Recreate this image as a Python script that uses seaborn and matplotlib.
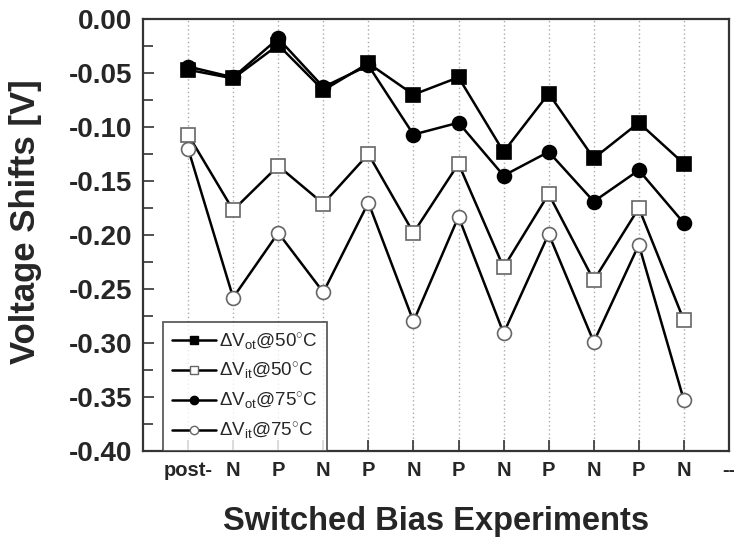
import pandas as pd
import matplotlib
matplotlib.use("Agg")
import matplotlib.pyplot as plt
from matplotlib.lines import Line2D
from matplotlib.ticker import MultipleLocator
import seaborn as sns

# bias sequence and tick labels (last tick sits on the right frame)
step = list(range(1, 13))
tick_labels = ["post-", "N", "P", "N", "P", "N", "P", "N", "P", "N", "P", "N", "--"]

# voltage shifts [V]
vot_50 = [-0.047, -0.055, -0.024, -0.066, -0.041, -0.070, -0.054, -0.123, -0.069, -0.129, -0.096, -0.134]
vit_50 = [-0.107, -0.177, -0.136, -0.171, -0.125, -0.198, -0.134, -0.230, -0.162, -0.242, -0.175, -0.279]
vot_75 = [-0.044, -0.054, -0.018, -0.063, -0.043, -0.107, -0.096, -0.145, -0.123, -0.169, -0.140, -0.189]
vit_75 = [-0.120, -0.258, -0.198, -0.253, -0.170, -0.280, -0.183, -0.291, -0.199, -0.299, -0.209, -0.353]

labels = [r"$\mathrm{\Delta V_{ot}}$@50$^{\circ}$C",
          r"$\mathrm{\Delta V_{it}}$@50$^{\circ}$C",
          r"$\mathrm{\Delta V_{ot}}$@75$^{\circ}$C",
          r"$\mathrm{\Delta V_{it}}$@75$^{\circ}$C"]

sns.set_style("ticks")
plt.rcParams["font.family"] = ["Liberation Sans", "DejaVu Sans"]
plt.rcParams["mathtext.fontset"] = "custom"
plt.rcParams["mathtext.rm"] = "Liberation Sans"
plt.rcParams["mathtext.it"] = "Liberation Sans:italic"
plt.rcParams["axes.unicode_minus"] = False

fig = plt.figure(figsize=(7.34, 5.45), dpi=100)
ax = fig.add_axes([143 / 734, 1 - 451 / 545, 586 / 734, 432 / 545])

# style per series: marker, face colour, edge colour
styles = [("s", "black", "black"), ("s", "white", "#666666"),
          ("o", "black", "black"), ("o", "white", "#666666")]
series = [vot_50, vit_50, vot_75, vit_75]

handles = []
for vals, lab, (mk, fc, ec) in zip(series, labels, styles):
    df = pd.DataFrame({"step": step, "shift": vals})
    sns.lineplot(data=df, x="step", y="shift", ax=ax, color="black", lw=1.8,
                 marker=mk, markersize=10, markerfacecolor=fc, markeredgecolor=ec,
                 markeredgewidth=1.2, zorder=3)
    handles.append(Line2D([], [], color="black", lw=1.8, marker=mk, markersize=6,
                          markerfacecolor=fc, markeredgecolor=ec, markeredgewidth=1))

ax.set_xlim(0, 13)
ax.set_xticks(range(1, 14))
ax.set_xticklabels(tick_labels, fontsize=14.5, fontweight="bold")
ax.yaxis.set_major_locator(MultipleLocator(0.05))
ax.yaxis.set_minor_locator(MultipleLocator(0.025))
ax.set_ylim(-0.40, 0.0)
ax.set_yticks(ax.get_yticks())
ax.set_yticklabels([f"{v:.2f}" for v in ax.get_yticks()], fontsize=20, fontweight="bold")
ax.set_ylim(-0.40, 0.0)
ax.tick_params(axis="both", which="major", direction="in", length=8, width=1.2, color="#333333")
ax.tick_params(axis="y", which="minor", direction="in", length=7, width=1.2, color="#333333")
ax.tick_params(axis="x", pad=7)
ax.tick_params(axis="y", pad=8)

ax.grid(axis="x", linestyle=(0, (1, 2)), color="#aaaaaa", lw=1)
for s in ax.spines.values():
    s.set_linewidth(1.6)
    s.set_color("#333333")

ax.set_xlabel("Switched Bias Experiments", fontsize=23.5, fontweight="bold", labelpad=19)
ax.set_ylabel("Voltage Shifts [V]", fontsize=25, fontweight="bold")
ax.yaxis.set_label_coords(-0.172, 0.53)

leg = ax.legend(handles, labels, loc="lower left", bbox_to_anchor=(20 / 586, 0),
                borderaxespad=0, fontsize=13.5, frameon=True, fancybox=False,
                handlelength=2.3, handletextpad=0.2, labelspacing=0.45,
                borderpad=0.5)
leg.get_frame().set_edgecolor("#333333")
leg.get_frame().set_linewidth(1.3)
leg.set_zorder(5)

fig.savefig("out.png", dpi=100)
